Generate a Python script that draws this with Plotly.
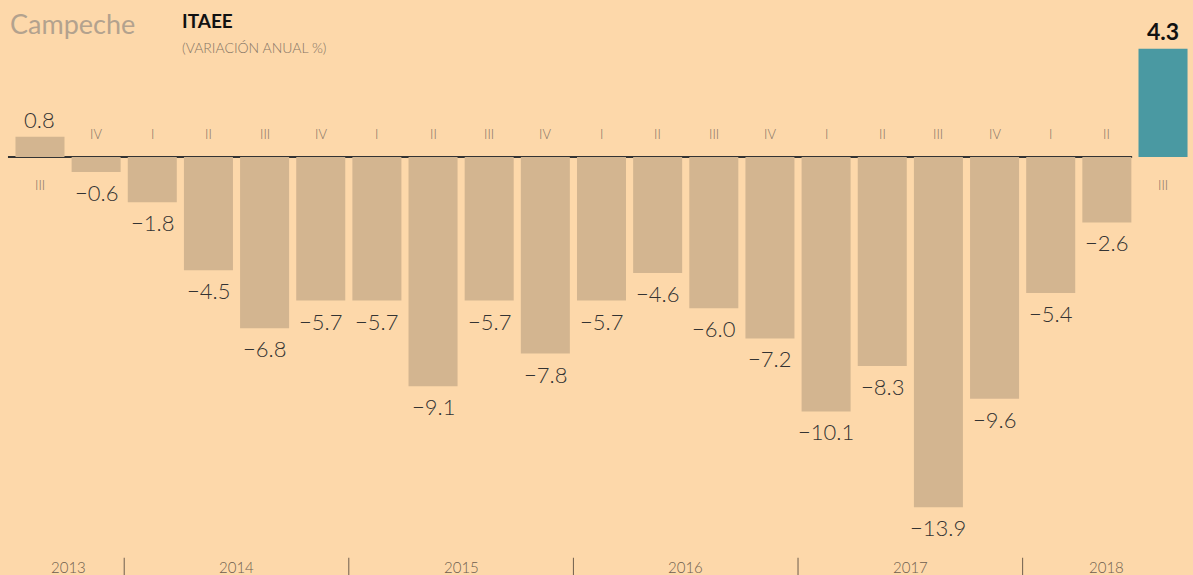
import plotly.graph_objects as go

# ITAEE Campeche, variación anual %
quarters = ["III", "IV", "I", "II", "III", "IV", "I", "II", "III", "IV",
            "I", "II", "III", "IV", "I", "II", "III", "IV", "I", "II", "III"]
values = [0.8, -0.6, -1.8, -4.5, -6.8, -5.7, -5.7, -9.1, -5.7, -7.8,
          -5.7, -4.6, -6.0, -7.2, -10.1, -8.3, -13.9, -9.6, -5.4, -2.6, 4.3]
years = ["2013", "2014", "2015", "2016", "2017", "2018"]
year_first = [0, 2, 6, 10, 14, 18]
year_last = [1, 5, 9, 13, 17, 20]

BG = "#FDD8AA"
TAN = "#D3B590"
TEAL = "#4A99A2"
GREY = "#857565"
FONT = "Lato"
W, H = 1193, 575

x = list(range(len(values)))
colors = [TAN] * (len(values) - 1) + [TEAL]

fig = go.Figure()
fig.add_trace(go.Bar(x=x, y=values, marker=dict(color=colors, line_width=0),
                     hoverinfo="skip"))

ann = []
for i, (q, v) in enumerate(zip(quarters, values)):
    last = i == len(values) - 1
    txt = f"{v:.1f}".replace("-", "\u2212")
    if v >= 0:
        ann.append(dict(x=i, y=v, text=f"<b>{txt}</b>" if last else txt,
                        yanchor="bottom", yshift=2, showarrow=False,
                        font=dict(family=FONT, size=23 if last else 22,
                                  color="#111" if last else "#333", weight=300)))
        ann.append(dict(x=i, y=0, text=q, yanchor="top", yshift=-18,
                        showarrow=False, font=dict(family=FONT, size=13, color=GREY, weight=300)))
    else:
        ann.append(dict(x=i, y=v, text=txt, yanchor="top", yshift=-5,
                        showarrow=False, font=dict(family=FONT, size=22, color="#333", weight=300)))
        ann.append(dict(x=i, y=0, text=q, yanchor="bottom", yshift=13,
                        showarrow=False, font=dict(family=FONT, size=13, color=GREY, weight=300)))

shapes = [dict(type="line", xref="x", yref="y", x0=-0.57, x1=19.45, y0=0, y1=0,
               line=dict(color="#333", width=2), layer="below")]
for k, (yr, a, b) in enumerate(zip(years, year_first, year_last)):
    ann.append(dict(x=(a + b) / 2, y=0, xref="x", yref="paper", text=yr,
                    yanchor="bottom", yshift=-3, showarrow=False,
                    font=dict(family=FONT, size=15, color="#6E5E4E", weight=300)))
    if k > 0:
        shapes.append(dict(type="line", xref="x", yref="paper", x0=a - 0.5, x1=a - 0.5,
                           y0=0, y1=0.03, line=dict(color="#6E5E4E", width=1)))

# header texts, placed in pixels then converted to paper coords
header = [
    dict(x=8, y=23, text="Campeche",
         font=dict(family=FONT, size=27, color="#B3A28E")),
    dict(x=180, y=20, text="<b>ITAEE</b>",
         font=dict(family=FONT, size=19, color="#111")),
    dict(x=180, y=47, text="(VARIACIÓN ANUAL %)",
         font=dict(family=FONT, size=14, color=GREY, weight=300)),
]
for a in header:
    a.update(xref="paper", yref="paper", x=a["x"] / W, y=1 - a["y"] / H,
             xanchor="left", yanchor="middle", showarrow=False)
ann += header

fig.update_layout(
    width=W, height=H,
    margin=dict(l=0, r=0, t=0, b=0),
    paper_bgcolor=BG, plot_bgcolor=BG,
    bargap=0.127,
    showlegend=False,
    xaxis=dict(range=[-0.712, 20.534], visible=False, fixedrange=True),
    yaxis=dict(range=[-16.59, 6.23], visible=False, fixedrange=True),
    annotations=ann, shapes=shapes,
)

fig.write_html("out.html", config={"displayModeBar": False},
               post_script="document.body.style.margin='0';")
